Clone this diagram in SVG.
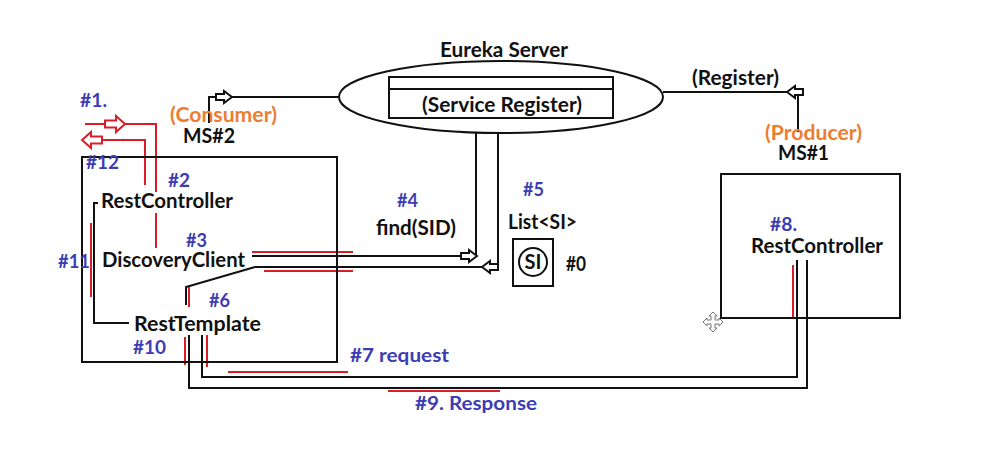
<svg xmlns="http://www.w3.org/2000/svg" width="1000" height="449" viewBox="0 0 1000 449">
<style>
text{font-family:Lato,"Open Sans","Liberation Sans",sans-serif;font-weight:bold}
.k{fill:#111;font-size:20px}
.b{fill:#3c3cb4;font-size:18px}
.o{fill:#ed7d31;font-size:20px}
.ln{fill:none;stroke:#111;stroke-width:2}
.rd{fill:none;stroke:#d91e2a;stroke-width:2}
.ah{fill:#fff;stroke:#111;stroke-width:2;stroke-linejoin:miter}
.rh{fill:#fff;stroke:#d91e2a;stroke-width:2;stroke-linejoin:miter}
</style>
<defs>
<path id="arrK" d="M0,0 L-8,-6 L-8,-3 L-16,-3 L-16,3 L-8,3 L-8,6 Z"/>
<path id="arrR" d="M0,0 L-9,-8 L-9,-3.5 L-20,-3.5 L-20,3.5 L-9,3.5 L-9,8 Z"/>
</defs>
<rect width="1000" height="449" fill="#fff"/>

<g id="connectors">
<path class="ln" d="M209,123 V97 H339"/>
<use href="#arrK" class="ah" transform="translate(232,97)"/>
<path class="ln" d="M798,132 V92 H663"/>
<use href="#arrK" class="ah" transform="translate(787,92) rotate(180)"/>
<path class="ln" d="M476,133 V256"/>
<path class="ln" d="M498,133 V267"/>
<path class="ln" d="M252,256 H470"/>
<use href="#arrK" class="ah" transform="translate(477,256)"/>
<path class="ln" d="M255,267 H498"/>
<use href="#arrK" class="ah" transform="translate(482,267) rotate(180)"/>
<path class="ln" d="M255,267 L186,287 V305"/>
<path class="ln" d="M98,203 H94 V323 H129"/>
<path class="ln" d="M202,335 V377 H797 V260"/>
<path class="ln" d="M189,335 V388 H807 V260"/>
</g>

<g id="red-marks">
<path class="rd" d="M85,124 H156 V192"/>
<use href="#arrR" class="rh" transform="translate(125,124)"/>
<path class="rd" d="M156,213 V248"/>
<path class="rd" d="M103,140 H145 V185"/>
<use href="#arrR" class="rh" transform="translate(82,140) rotate(180)"/>
<path class="rd" d="M91,223 V297"/>
<path class="rd" d="M252,252 H353 M264,271 H353"/>
<path class="rd" d="M189,287 V307"/>
<path class="rd" d="M185,337 V365 M207,335 V367"/>
<path class="rd" d="M228,372 H348 M388,391 H500"/>
<path class="rd" d="M793,265 V318"/>
</g>

<g id="eureka">
<ellipse cx="501" cy="97" rx="162" ry="36" class="ln"/>
<rect x="389" y="77" width="224" height="41" class="ln"/>
<path class="ln" d="M389,89 H613"/>
<text class="k" x="440" y="57" textLength="128" lengthAdjust="spacingAndGlyphs">Eureka Server</text>
<text class="k" x="422" y="112" textLength="160" lengthAdjust="spacingAndGlyphs">(Service Register)</text>
</g>

<g id="ms2">
<rect x="82" y="157" width="255" height="205" class="ln"/>
<text class="o" x="170" y="122" textLength="107" lengthAdjust="spacingAndGlyphs">(Consumer)</text>
<text class="k" x="183" y="143" font-size="18" textLength="52" lengthAdjust="spacingAndGlyphs">MS#2</text>
<text class="k" x="101" y="208" textLength="132" lengthAdjust="spacingAndGlyphs">RestController</text>
<text class="k" x="102" y="267" textLength="143" lengthAdjust="spacingAndGlyphs">DiscoveryClient</text>
<text class="k" x="134" y="331" textLength="127" lengthAdjust="spacingAndGlyphs">RestTemplate</text>
</g>

<g id="ms1">
<rect x="721" y="174" width="179" height="144" class="ln"/>
<text class="o" x="765" y="140" textLength="97" lengthAdjust="spacingAndGlyphs">(Producer)</text>
<text class="k" x="778" y="160" font-size="18" textLength="51" lengthAdjust="spacingAndGlyphs">MS#1</text>
<text class="k" x="751" y="253" textLength="132" lengthAdjust="spacingAndGlyphs">RestController</text>
</g>

<g id="si">
<rect x="513" y="239" width="40" height="47" class="ln"/>
<circle cx="533" cy="262" r="14" class="ln"/>
<text class="k" x="533" y="269" font-size="18" text-anchor="middle">SI</text>
<text class="k" x="566" y="271" font-size="18" textLength="20" lengthAdjust="spacingAndGlyphs">#0</text>
<text class="k" x="508" y="229" textLength="69" lengthAdjust="spacingAndGlyphs">List&lt;SI&gt;</text>
</g>

<g id="labels">
<text class="k" x="692" y="85" textLength="87" lengthAdjust="spacingAndGlyphs">(Register)</text>
<text class="k" x="376" y="235" textLength="80" lengthAdjust="spacingAndGlyphs">find(SID)</text>
<text class="b" x="80" y="107" textLength="27" lengthAdjust="spacingAndGlyphs">#1.</text>
<text class="b" x="86" y="169" textLength="33" lengthAdjust="spacingAndGlyphs">#12</text>
<text class="b" x="168" y="187" textLength="22" lengthAdjust="spacingAndGlyphs">#2</text>
<text class="b" x="58" y="268" textLength="32" lengthAdjust="spacingAndGlyphs">#11</text>
<text class="b" x="186" y="247" textLength="21" lengthAdjust="spacingAndGlyphs">#3</text>
<text class="b" x="209" y="307" textLength="21" lengthAdjust="spacingAndGlyphs">#6</text>
<text class="b" x="133" y="354" textLength="33" lengthAdjust="spacingAndGlyphs">#10</text>
<text class="b" x="397" y="207" textLength="21" lengthAdjust="spacingAndGlyphs">#4</text>
<text class="b" x="523" y="196" textLength="21" lengthAdjust="spacingAndGlyphs">#5</text>
<text class="b" x="770" y="231" textLength="27" lengthAdjust="spacingAndGlyphs">#8.</text>
<text class="b" x="350" y="362" textLength="99" lengthAdjust="spacingAndGlyphs">#7 request</text>
<text class="b" x="415" y="410" textLength="122" lengthAdjust="spacingAndGlyphs">#9. Response</text>
</g>

<g id="cursor">
<path d="M713,312 L717,316 L715,316 L715,320 L719,320 L719,318 L723,322 L719,326 L719,324 L715,324 L715,328 L717,328 L713,332 L709,328 L711,328 L711,324 L707,324 L707,326 L703,322 L707,318 L707,320 L711,320 L711,316 L709,316 Z" fill="#fff" stroke="#777" stroke-width="1"/>
</g>
</svg>
